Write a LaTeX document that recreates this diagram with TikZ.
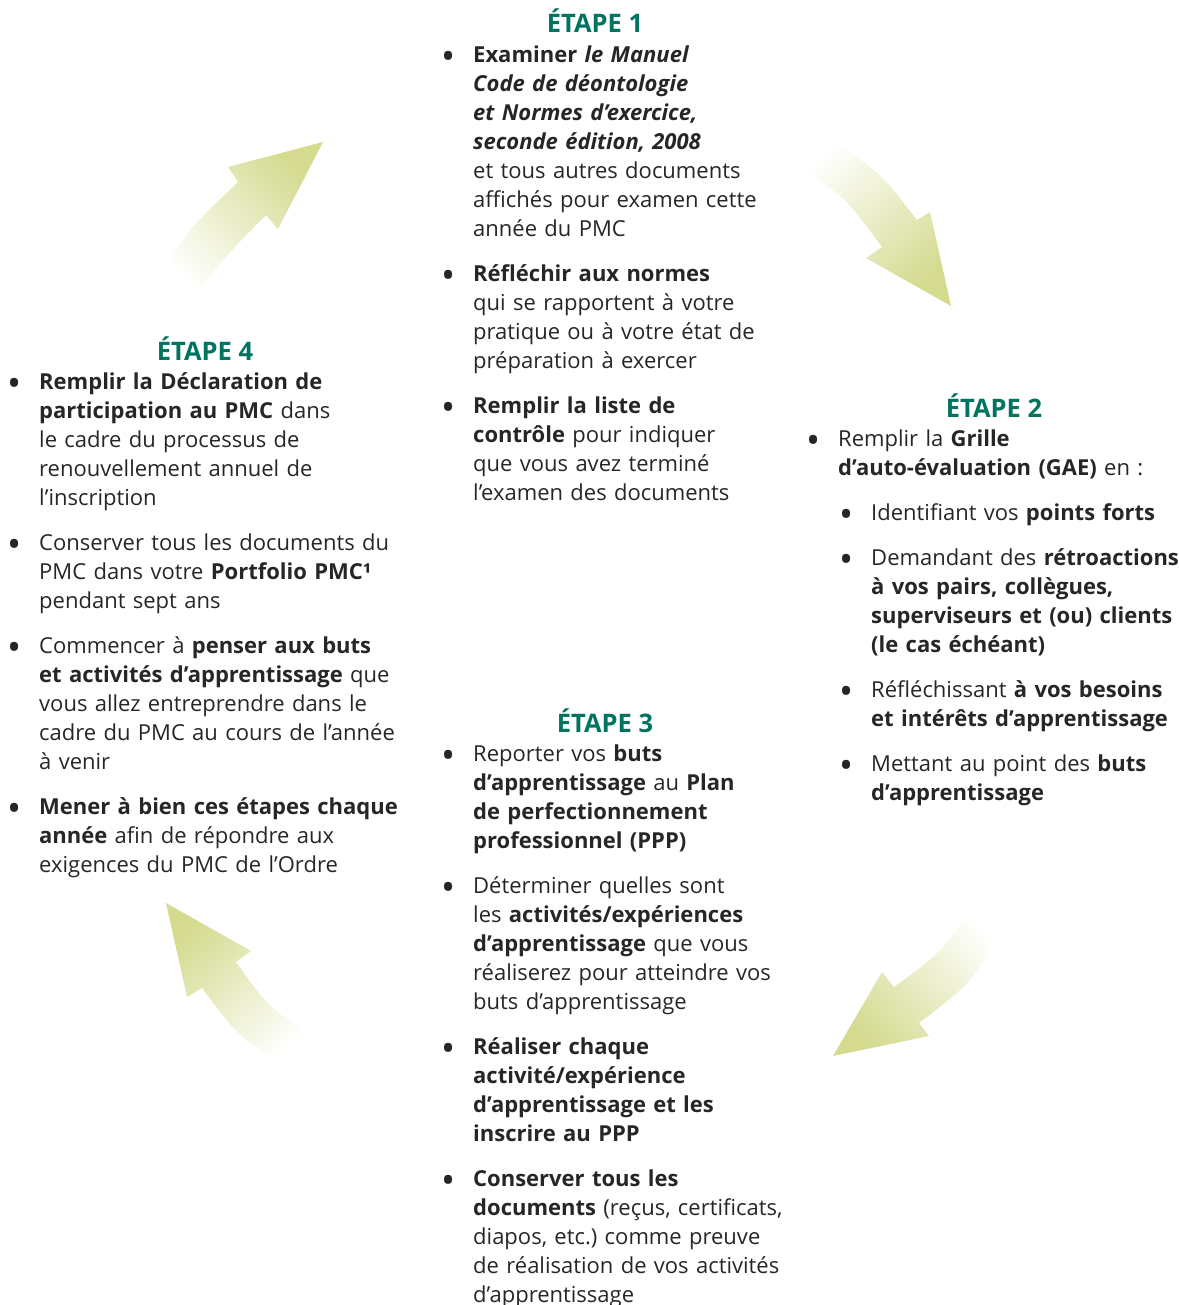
\documentclass[tikz,border=0pt]{standalone}
\usepackage{fontspec}
\setmainfont{Open Sans}
\usetikzlibrary{positioning}
\definecolor{etapegreen}{HTML}{00745F}
\definecolor{textgray}{HTML}{262626}
\definecolor{arrowgreen}{HTML}{D4DA8E}
\frenchspacing
% bullet items with hanging indent
\newcommand\blocfont{\fontsize{22}{29}\selectfont\setlength{\parskip}{16pt}}
\newcommand\puce{\hspace*{-6pt}\raisebox{-7pt}{\scalebox{1.7}{\textbullet}}}
\newcommand\itm[1]{\hangindent=26pt\hangafter=1\noindent\strut\makebox[26pt][l]{\puce}#1\par}
\newcommand\sitm[1]{\hangindent=59pt\hangafter=1\noindent\strut\hspace*{33pt}\makebox[26pt][l]{\puce}#1\par}
\tikzset{
  etape/.style={font=\fontsize{25.5}{29}\selectfont\bfseries, text=etapegreen, inner sep=0pt, anchor=base},
  bloc/.style={font=\blocfont, text=textgray, text width=420pt, align=left, inner sep=0pt, anchor=north west},
  fleche/.style={top color=arrowgreen, bottom color=white, draw=none}
}
\begin{document}
\begin{tikzpicture}[x=1pt,y=-1pt]
	\useasboundingbox (0,0) rectangle (1178,1305);
	% arrows
	\path[fleche,shading angle=-45] (160,277) .. controls (187,231) .. (238,182) -- (228,167) -- (323,142) -- (278,229) -- (266,215) .. controls (217,265) .. (192,303) -- cycle;
	\path[fleche,shading angle=-138] (825,137) .. controls (879,171) .. (917,220) -- (930,212) -- (951,306) -- (866,258) -- (882,247) .. controls (845,197) .. (793,163) -- cycle;
	\path[fleche,shading angle=132] (975,902) .. controls (942,952) .. (894,987) -- (882,972) -- (833,1056) -- (929,1036) -- (919,1023) .. controls (969,985) .. (1003,932) -- cycle;
	\path[fleche,shading angle=42] (166,903) -- (251,951) -- (236,962) .. controls (268,1007) .. (315,1037) -- (287,1067) .. controls (237,1035) .. (202,988) -- (187,997) -- cycle;
	% titles
	\node[etape] (t1) at (595,33) {ÉTAPE 1};
	\node[etape] (t2) at (994,417) {ÉTAPE 2};
	\node[etape] (t3) at (605,732) {ÉTAPE 3};
	\node[etape] (t4) at (205,360) {ÉTAPE 4};
	% texts
	\node[bloc] (e1) at (447,41.7) {%
		\itm{\textbf{Examiner \textit{le Manuel}}\newline
		\textbf{\textit{Code de déontologie}}\newline
		\textbf{\textit{et Normes d’exercice,}}\newline
		\textbf{\textit{seconde édition, 2008}}\newline
		et tous autres documents\newline
		affichés pour examen cette\newline
		année du PMC}
		\itm{\textbf{Réfléchir aux normes}\newline
		qui se rapportent à votre\newline
		pratique ou à votre état de\newline
		préparation à exercer}
		\itm{\textbf{Remplir la liste de}\newline
		\textbf{contrôle} pour indiquer\newline
		que vous avez terminé\newline
		l’examen des documents}};
	\node[bloc] (e2) at (812,425.7) {%
		\itm{Remplir la \textbf{Grille}\newline
		\textbf{d’auto-évaluation (GAE)} en :}
		\sitm{Identifiant vos \textbf{points forts}}
		\sitm{Demandant des \textbf{rétroactions}\newline
		\textbf{à vos pairs, collègues,}\newline
		\textbf{superviseurs et (ou) clients}\newline
		\textbf{(le cas échéant)}}
		\sitm{Réfléchissant \textbf{à vos besoins}\newline
		\textbf{et intérêts d’apprentissage}}
		\sitm{Mettant au point des \textbf{buts}\newline
		\textbf{d’apprentissage}}};
	\node[bloc] (e3) at (447,740.7) {%
		\itm{Reporter vos \textbf{buts}\newline
		\textbf{d’apprentissage} au \textbf{Plan}\newline
		\textbf{de perfectionnement}\newline
		\textbf{professionnel (PPP)}}
		\itm{Déterminer quelles sont\newline
		les \textbf{activités/expériences}\newline
		\textbf{d’apprentissage} que vous\newline
		réaliserez pour atteindre vos\newline
		buts d’apprentissage}
		\itm{\textbf{Réaliser chaque}\newline
		\textbf{activité/expérience}\newline
		\textbf{d’apprentissage et les}\newline
		\textbf{inscrire au PPP}}
		\itm{\textbf{Conserver tous les}\newline
		\textbf{documents} (reçus, certificats,\newline
		diapos, etc.) comme preuve\newline
		de réalisation de vos activités\newline
		d’apprentissage}};
	\node[bloc] (e4) at (13,368.7) {%
		\itm{\textbf{Remplir la Déclaration de}\newline
		\textbf{participation au PMC} dans\newline
		le cadre du processus de\newline
		renouvellement annuel de\newline
		l’inscription}
		\itm{Conserver tous les documents du\newline
		PMC dans votre \textbf{Portfolio PMC¹}\newline
		pendant sept ans}
		\itm{Commencer à \textbf{penser aux buts}\newline
		\textbf{et activités d’apprentissage} que\newline
		vous allez entreprendre dans le\newline
		cadre du PMC au cours de l’année\newline
		à venir}
		\itm{\textbf{Mener à bien ces étapes chaque}\newline
		\textbf{année} afin de répondre aux\newline
		exigences du PMC de l’Ordre}};
\end{tikzpicture}
\end{document}
